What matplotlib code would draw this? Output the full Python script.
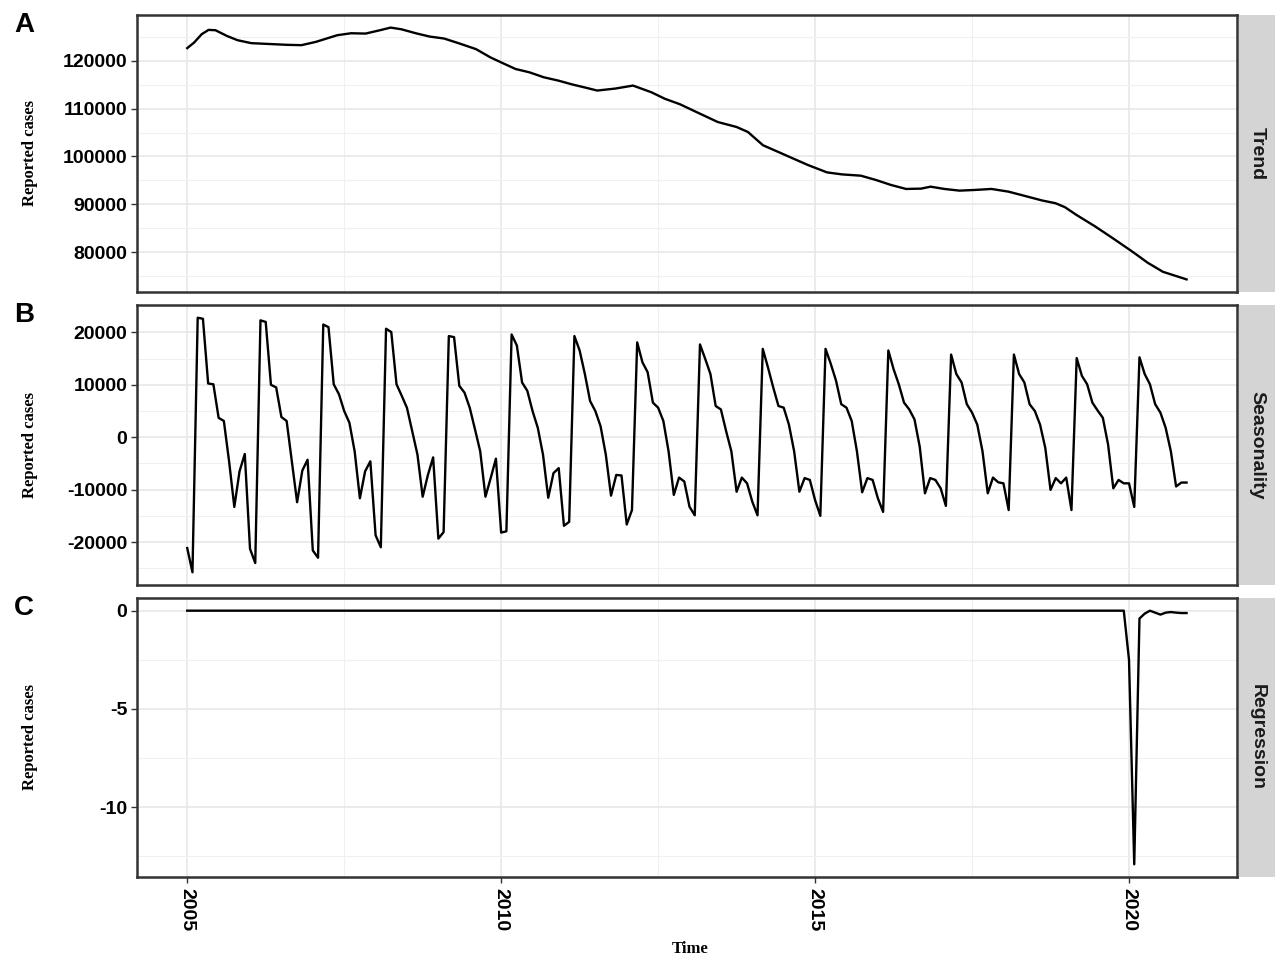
import numpy as np
import matplotlib
matplotlib.use("Agg")
import matplotlib.pyplot as plt
from matplotlib.ticker import FixedLocator

# Tendencia (año decimal / casos)
trend_t = [2005.00, 2005.11, 2005.23, 2005.34, 2005.45, 2005.63, 2005.80, 2006.02,
           2006.36, 2006.59, 2006.82, 2007.05, 2007.39, 2007.61, 2007.84, 2008.07,
           2008.24, 2008.41, 2008.64, 2008.86, 2009.09, 2009.32, 2009.60, 2009.83,
           2010.00, 2010.23, 2010.45, 2010.68, 2010.91, 2011.14, 2011.36, 2011.53,
           2011.82, 2012.10, 2012.39, 2012.61, 2012.85, 2013.09, 2013.45, 2013.75,
           2013.93, 2014.17, 2014.41, 2014.65, 2014.89, 2015.19, 2015.43, 2015.73,
           2015.97, 2016.21, 2016.45, 2016.69, 2016.84, 2017.06, 2017.30, 2017.54,
           2017.81, 2018.08, 2018.38, 2018.62, 2018.83, 2018.98, 2019.16, 2019.46,
           2019.76, 2020.06, 2020.30, 2020.54, 2020.917]
trend_v = [122630, 123800, 125540, 126440, 126370, 125190, 124290, 123670,
           123460, 123320, 123250, 123940, 125330, 125740, 125670, 126370,
           126920, 126570, 125740, 125050, 124640, 123670, 122420, 120690,
           119650, 118270, 117580, 116540, 115850, 115020, 114330, 113770,
           114190, 114810, 113430, 112040, 110900, 109410, 107200, 106160,
           105120, 102350, 100970, 99580, 98200, 96680, 96260, 95990,
           95090, 94050, 93220, 93290, 93700, 93220, 92870, 93010,
           93220, 92660, 91630, 90800, 90240, 89410, 87820, 85400,
           82770, 80070, 77790, 75920, 74330]

# Estacionalidad mensual, enero 2005 - diciembre 2020
season = [
    -21150, -25770, 22800, 22600, 10250, 10100, 3700, 3100, -4600, -13300, -6500, -3200,
    -21300, -24000, 22300, 22000, 10000, 9500, 3850, 3100, -4600, -12400, -6350, -4300,
    -21600, -23000, 21500, 21000, 10100, 8200, 5000, 2750, -2700, -11650, -6500, -4600,
    -18700, -21000, 20700, 20060, 10100, 7900, 5600, 1150, -3300, -11350, -7200, -3850,
    -19350, -18100, 19300, 19100, 9800, 8500, 5600, 1500, -2700, -11350, -7800, -4100,
    -18200, -17950, 19600, 17500, 10450, 8850, 5000, 1800, -3330, -11550, -6850, -5900,
    -16900, -16150, 19300, 16550, 12050, 6900, 5000, 2100, -3300, -11150, -7200, -7300,
    -16650, -13900, 18100, 14300, 12400, 6600, 5640, 3100, -2700, -11000, -7700, -8450,
    -13270, -14900, 17700, 14950, 12050, 5960, 5300, 1150, -2700, -10400, -7700, -8800,
    -12300, -14900, 16860, 13300, 9500, 5960, 5640, 2400, -2700, -10400, -7800, -8150,
    -12000, -15000, 16860, 14000, 10800, 6300, 5640, 3100, -2700, -10500, -7800, -8150,
    -11650, -14250, 16550, 13000, 10100, 6600, 5300, 3400, -1800, -10700, -7800, -8150,
    -9750, -13100, 15770, 12050, 10450, 6300, 4700, 2400, -2700, -10700, -7700, -8600,
    -8800, -13900, 15770, 12050, 10450, 6300, 5000, 2400, -2050, -10050, -7800, -8800,
    -7700, -13900, 15100, 11700, 10100, 6600, 5100, 3700, -1400, -9750, -8150, -8800,
    -8800, -13300, 15250, 12050, 10100, 6300, 4700, 1800, -2700, -9400, -8650, -8650,
]

# Regresion: cero hasta diciembre 2019, luego el efecto de 2020
regression = [0.0] * 180 + [-2.5, -12.9, -0.4, -0.15, 0.0, -0.1,
                            -0.2, -0.1, -0.07, -0.1, -0.12, -0.12]

months = 2005 + np.arange(len(season)) / 12

W, H = 1275, 959
fig = plt.figure(figsize=(W / 100, H / 100), dpi=100)


def caja(l, t, r, b):
    return [l / W, 1 - b / H, (r - l) / W, (b - t) / H]


paneles = [
    (15, 292, "A", "Trend", [80000, 90000, 100000, 110000, 120000],
     [75000, 85000, 95000, 105000, 115000, 125000]),
    (305, 585, "B", "Seasonality", [-20000, -10000, 0, 10000, 20000],
     [-25000, -15000, -5000, 5000, 15000, 25000]),
    (598, 877, "C", "Regression", [-10, -5, 0], [-12.5, -7.5, -2.5]),
]
series = [(trend_t, trend_v), (months, season), (months, regression)]

borde = "#333333"
for i, ((top, bot, letra, nombre, yt, ym), (x, y)) in enumerate(zip(paneles, series)):
    ax = fig.add_axes(caja(137, top, 1237, bot))
    ax.plot(x, y, color="black", linewidth=1.7, zorder=3)
    ax.set_xlim(2004.2, 2021.72)
    ax.margins(y=0.05)
    ax.yaxis.set_major_locator(FixedLocator(yt))
    ax.yaxis.set_minor_locator(FixedLocator(ym))
    ax.xaxis.set_major_locator(FixedLocator([2005, 2010, 2015, 2020]))
    ax.xaxis.set_minor_locator(FixedLocator([2007.5, 2012.5, 2017.5]))
    ax.grid(which="major", color="#E6E6E6", linewidth=1.1, zorder=0)
    ax.grid(which="minor", color="#F0F0F0", linewidth=0.8, zorder=0)
    ax.set_axisbelow(True)
    for s in ax.spines.values():
        s.set_color(borde)
        s.set_linewidth(1.8)
    ax.set_yticklabels([f"{v:g}" for v in yt], fontsize=14, fontweight="bold",
                       family="Liberation Sans")
    ax.tick_params(axis="y", which="major", length=4, width=1, color=borde, pad=3)
    ax.tick_params(which="minor", length=0)
    if i < 2:
        ax.tick_params(axis="x", which="major", length=0, labelbottom=False)
    else:
        ax.tick_params(axis="x", which="major", length=4, width=1, color=borde, pad=4)
        for lab in ax.get_xticklabels():
            lab.set_rotation(-90)
            lab.set_fontsize(14)
            lab.set_fontweight("bold")
            lab.set_family("Liberation Sans")
            lab.set_va("top")

    # franja gris a la derecha (faceta)
    st = fig.add_axes(caja(1239, top, 1275, bot))
    st.set_facecolor("#D4D4D4")
    st.set_xticks([])
    st.set_yticks([])
    for s in st.spines.values():
        s.set_visible(False)
    st.text(0.5, 0.5, nombre, transform=st.transAxes, rotation=-90,
            ha="center", va="center", fontsize=14, fontweight="bold",
            color="#1A1A1A", family="Liberation Sans")

    fig.text(24 / W, 1 - (top + 10) / H, letra, fontsize=20, fontweight="bold",
             ha="center", va="center", family="Liberation Sans")
    fig.text(30 / W, 1 - (top + bot) / 2 / H, "Reported cases", rotation=90,
             ha="center", va="center", fontsize=12, fontweight="bold",
             family="Liberation Serif")

fig.text(690 / W, 1 - 949 / H, "Time", ha="center", va="center", fontsize=12,
         fontweight="bold", family="Liberation Serif")

plt.savefig("out.png", dpi=100)
